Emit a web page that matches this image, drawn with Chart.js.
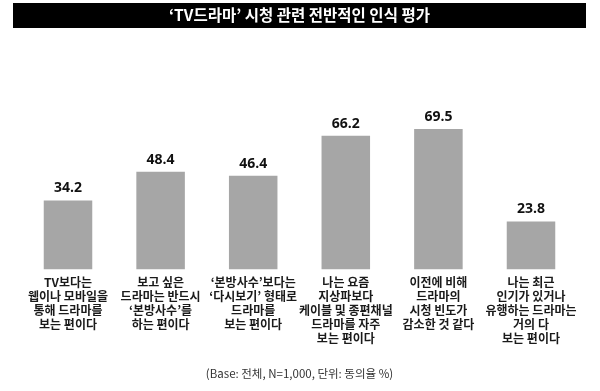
<!DOCTYPE html>
<html>
<head>
<meta charset="utf-8">
<script src="https://cdn.jsdelivr.net/npm/chart.js@4/dist/chart.umd.min.js"></script>
<style>
html,body{margin:0;padding:0;background:#fff;}
#wrap{width:600px;height:391px;position:relative;}
</style>
</head>
<body>
<div id="wrap"><canvas id="c" width="600" height="391"></canvas></div>
<script>
const titleText = "‘TV드라마’ 시청 관련 전반적인 인식 평가";
const footerText = "(Base: 전체, N=1,000, 단위: 동의율 %)";
const categories = [
  ["TV보다는", "웹이나 모바일을", "통해 드라마를", "보는 편이다"],
  ["보고 싶은", "드라마는 반드시", "‘본방사수’를", "하는 편이다"],
  ["‘본방사수’보다는", "‘다시보기’ 형태로", "드라마를", "보는 편이다"],
  ["나는 요즘", "지상파보다", "케이블 및 종편채널", "드라마를 자주", "보는 편이다"],
  ["이전에 비해", "드라마의", "시청 빈도가", "감소한 것 같다"],
  ["나는 최근", "인기가 있거나", "유행하는 드라마는", "거의 다", "보는 편이다"]
];
const values = [34.2, 48.4, 46.4, 66.2, 69.5, 23.8];

const KFONT = "'Noto Sans CJK KR', 'Noto Sans', sans-serif";

const titleBox = {
  id: 'titleBox',
  beforeDraw(chart) {
    const ctx = chart.ctx;
    ctx.save();
    ctx.fillStyle = '#000';
    ctx.fillRect(13, 3, 573, 25);
    ctx.restore();
  }
};

const valueLabels = {
  id: 'valueLabels',
  afterDatasetsDraw(chart) {
    const ctx = chart.ctx;
    const meta = chart.getDatasetMeta(0);
    ctx.save();
    ctx.font = "bold 14px 'Open Sans', sans-serif";
    ctx.fillStyle = '#111';
    ctx.textAlign = 'center';
    ctx.textBaseline = 'middle';
    meta.data.forEach((el, i) => {
      ctx.fillText(values[i].toFixed(1), el.x, el.y - 12);
    });
    ctx.restore();
  }
};

new Chart(document.getElementById('c'), {
  type: 'bar',
  data: {
    labels: categories,
    datasets: [{
      data: values,
      backgroundColor: '#a6a6a6',
      borderWidth: 0,
      categoryPercentage: 1,
      barPercentage: 0.524
    }]
  },
  options: {
    responsive: false,
    animation: false,
    layout: { padding: { left: 21.7, right: 22.7, top: 0, bottom: 0 } },
    plugins: {
      legend: { display: false },
      tooltip: { enabled: false },
      title: {
        display: true,
        text: titleText,
        color: '#fff',
        font: { family: KFONT, size: 15.5, weight: 'bold', lineHeight: 1.2 },
        padding: { top: 6.2, bottom: 42.7 }
      },
      subtitle: {
        display: true,
        position: 'bottom',
        text: footerText,
        color: '#333',
        font: { family: KFONT, size: 11.5, weight: 'normal', lineHeight: 1.2 },
        padding: { top: 16.5, bottom: 10.2 }
      }
    },
    scales: {
      x: {
        grid: { display: false, drawTicks: false },
        border: { display: false },
        ticks: {
          autoSkip: false,
          maxRotation: 0,
          minRotation: 0,
          padding: 5.5,
          color: '#1a1a1a',
          font: { family: KFONT, size: 12, weight: 'bold', lineHeight: '14px' }
        }
      },
      y: {
        display: false,
        min: 0,
        max: 100
      }
    }
  },
  plugins: [titleBox, valueLabels]
});
</script>
</body>
</html>
